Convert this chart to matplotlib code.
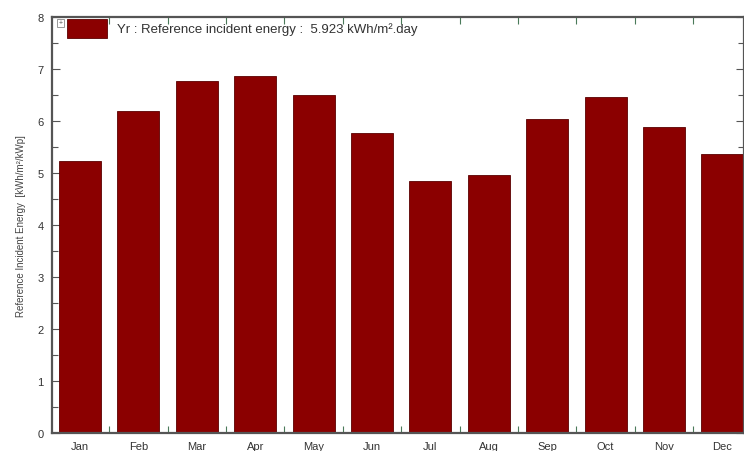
import matplotlib
matplotlib.use("Agg")
import matplotlib.pyplot as plt
from matplotlib.patches import Rectangle
from matplotlib.ticker import MultipleLocator, FixedLocator

months = ["Jan", "Feb", "Mar", "Apr", "May", "Jun",
          "Jul", "Aug", "Sep", "Oct", "Nov", "Dec"]
energy = [5.23, 6.20, 6.77, 6.86, 6.50, 5.77,
          4.85, 4.96, 6.04, 6.47, 5.88, 5.36]
yearly_label = "Yr : Reference incident energy :  5.923 kWh/m\u00b2.day"
y_label = "Reference Incident Energy  [kWh/m\u00b2/kWp]"

bar_color = "#8b0000"
frame_color = "#555555"

plt.rcParams["font.family"] = ["Liberation Sans", "DejaVu Sans"]

fig = plt.figure(figsize=(7.44, 4.52), dpi=100)
ax = fig.add_axes([52 / 744, 18 / 452, (744 - 52) / 744, (434 - 18) / 452])

x = list(range(len(months)))
ax.bar(x, energy, width=0.72, color=bar_color, edgecolor="#5a0000",
       linewidth=0.6, zorder=2)

ax.set_xlim(-0.48, 11.37)
ax.set_ylim(0, 8)

ax.set_xticks(x)
ax.set_xticklabels(months, fontsize=8, color="#333333")
ax.xaxis.set_minor_locator(FixedLocator([k + 0.5 for k in range(-1, 12)]))
ax.yaxis.set_major_locator(MultipleLocator(1))
ax.yaxis.set_minor_locator(MultipleLocator(0.5))
ax.tick_params(axis="x", which="major", length=0, pad=6)
ax.tick_params(axis="x", which="minor", direction="in", length=5,
               width=0.8, color="#4a7a5a", top=True, bottom=True)
ax.tick_params(axis="y", which="major", direction="in", length=6,
               width=0.8, color=frame_color, left=True, right=True,
               labelsize=8, labelcolor="#333333", pad=6)
ax.tick_params(axis="y", which="minor", direction="in", length=4,
               width=0.8, color=frame_color, left=True, right=True)

for side in ("left", "right", "top", "bottom"):
    ax.spines[side].set_color(frame_color)
    ax.spines[side].set_linewidth(1.6)

ax.set_ylabel(y_label, fontsize=7, color="#444444", labelpad=8)

# yearly summary key in the upper-left corner
ax.add_patch(Rectangle((15 / 692, 1 - 2 / 416), 40 / 692, -19 / 416,
                       transform=ax.transAxes, facecolor=bar_color,
                       edgecolor="#5a0000", linewidth=0.6, zorder=3))
ax.text(65 / 692, 1 - 12 / 416, yearly_label, transform=ax.transAxes,
        fontsize=9.5, color="#333333", va="center", ha="left", zorder=3)

# small toggle box at the axes corner
ax.add_patch(Rectangle((5 / 692, 1 - 2 / 416), 7 / 692, -8 / 416,
                       transform=ax.transAxes, facecolor="white",
                       edgecolor="#888888", linewidth=0.6, zorder=4,
                       clip_on=False))
ax.text(8.5 / 692, 1 - 6 / 416, "+", transform=ax.transAxes, fontsize=5,
        color="#555555", ha="center", va="center", zorder=5)

fig.savefig("out.png", dpi=100, facecolor="white")
